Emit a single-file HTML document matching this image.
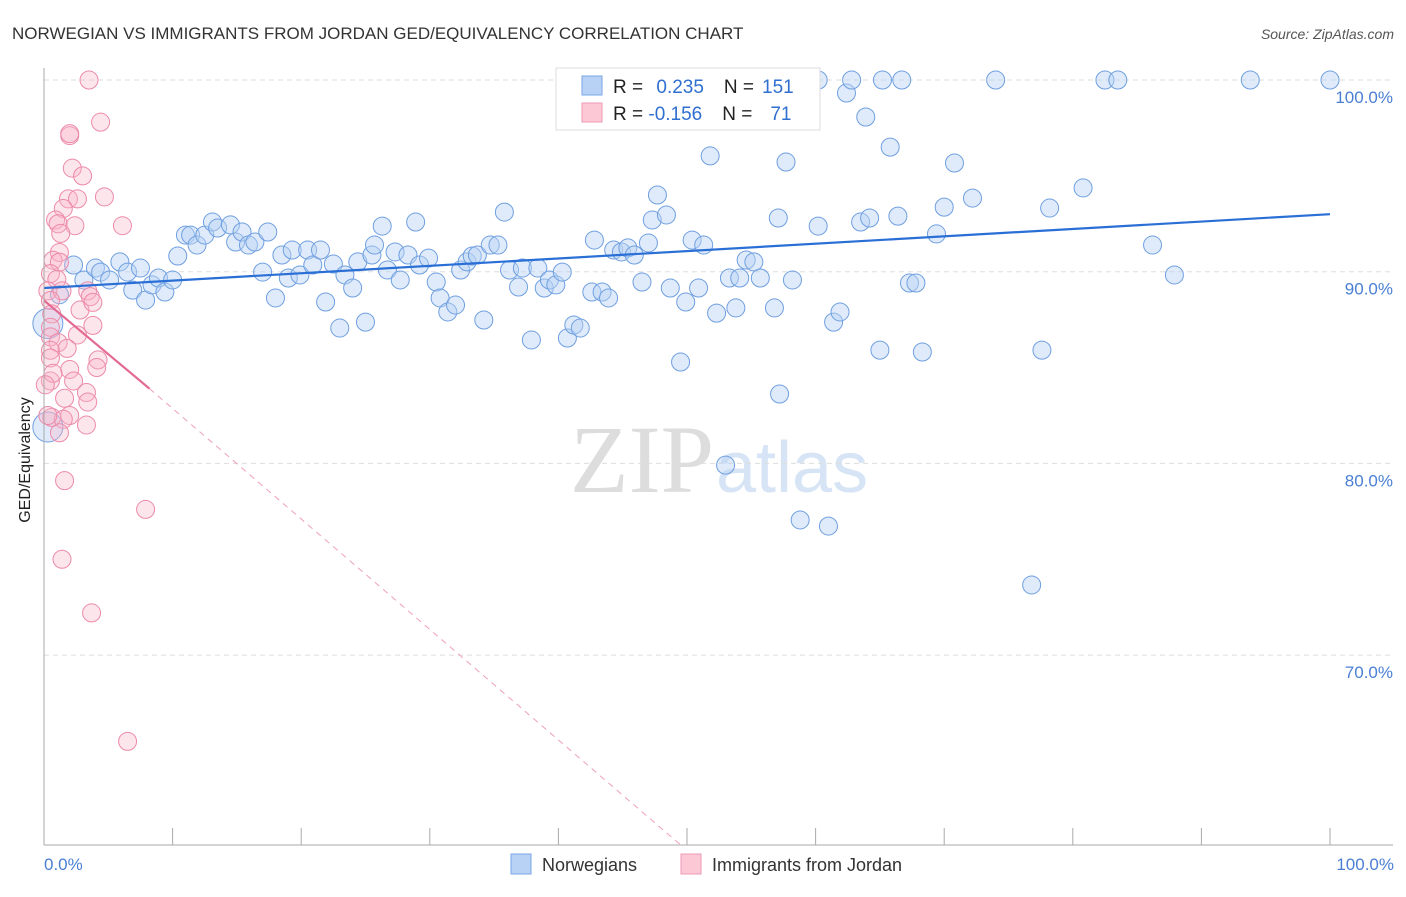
<!DOCTYPE html>
<html><head><meta charset="utf-8"><style>
body{margin:0;background:#fff;font-family:"Liberation Sans",sans-serif}
</style></head><body>
<svg id="c" width="1406" height="892" xmlns="http://www.w3.org/2000/svg">
<text x="12" y="39" font-size="17" fill="#333">NORWEGIAN VS IMMIGRANTS FROM JORDAN GED/EQUIVALENCY CORRELATION CHART</text>
<text x="1394" y="39" font-size="14" fill="#555" text-anchor="end" font-style="italic">Source: ZipAtlas.com</text>
<text x="714" y="492" font-size="96" fill="#ddd" text-anchor="end" font-family="Liberation Serif">ZIP</text>
<text x="716" y="492" font-size="72" fill="#d6e4f5">atlas</text>
<g id="grid"></g><g id="pts"></g><g id="lines"></g>
<line x1="44" y1="68" x2="44" y2="845" stroke="#aaa"/>
<line x1="44" y1="845" x2="1393" y2="845" stroke="#aaa"/>
<text x="30" y="460" font-size="16" fill="#222" text-anchor="middle" transform="rotate(-90 30 460)">GED/Equivalency</text>
<text x="44" y="870" font-size="17" fill="#4a7fd4">0.0%</text>
<text x="1394" y="870" font-size="17" fill="#4a7fd4" text-anchor="end">100.0%</text>
<g>
<rect x="556" y="68" width="264" height="62" fill="#fff" stroke="#ddd"/>
<rect x="582" y="76" width="20" height="19" fill="#b8d2f5" stroke="#7aa6e6"/>
<rect x="582" y="103" width="20" height="19" fill="#fcc8d6" stroke="#ee9ab4"/>
<text x="613" y="93" font-size="19" fill="#222">R = <tspan fill="#2f6fd0" dx="8">0.235</tspan><tspan dx="20" fill="#222">N =</tspan><tspan fill="#2f6fd0" dx="8">151</tspan></text>
<text x="613" y="120" font-size="19" fill="#222">R = <tspan fill="#2f6fd0">-0.156</tspan><tspan dx="20" fill="#222">N =</tspan><tspan fill="#2f6fd0" dx="18">71</tspan></text>
</g>
<g>
<rect x="511" y="854" width="20" height="20" fill="#b8d2f5" stroke="#7aa6e6"/>
<text x="542" y="871" font-size="18" fill="#333">Norwegians</text>
<rect x="681" y="854" width="20" height="20" fill="#fcc8d6" stroke="#ee9ab4"/>
<text x="712" y="871" font-size="18" fill="#333">Immigrants from Jordan</text>
</g>
</svg>
<script>
const yTicks=[100,90,80,70];
const yTickLabels=["100.0%","90.0%","80.0%","70.0%"];
const xTicks=[0,10,20,30,40,50,60,70,80,90,100];
const blueX=[2.3,3.1,4.0,4.4,5.1,5.9,6.5,7.5,6.9,7.9,8.4,8.9,9.4,10.0,10.4,11.0,11.4,11.9,12.5,13.1,13.5,14.5,14.9,15.4,15.9,16.4,17.0,17.4,18.0,18.5,19.0,19.3,19.9,20.5,20.9,21.5,21.9,22.5,23.0,23.4,24.0,24.4,25.0,25.5,25.7,26.3,26.7,27.3,27.7,28.3,28.9,29.2,29.9,30.5,30.8,31.4,32.0,32.4,32.9,33.3,33.7,34.2,34.7,35.3,35.8,36.2,36.9,37.2,37.9,38.4,38.9,39.3,39.8,40.3,40.7,41.2,41.7,42.6,42.8,43.4,43.9,44.3,44.9,45.4,45.9,46.5,47.0,47.3,47.7,48.4,48.7,49.5,49.9,50.4,50.9,51.3,51.8,52.3,53.0,53.3,53.8,54.1,54.6,55.2,55.7,56.8,57.1,57.2,57.7,58.2,58.8,60.2,60.2,61.0,61.4,61.9,62.4,62.8,63.9,63.5,64.2,65.0,65.2,65.8,66.4,66.7,67.3,67.8,68.3,69.4,70.0,70.8,72.2,74.0,76.8,77.6,78.2,80.8,82.5,83.5,86.2,87.9,93.8,100,1.2];
const blueY=[90.35,89.57,90.19,89.98,89.57,90.51,89.98,90.19,89.04,88.52,89.31,89.67,88.94,89.57,90.82,91.91,91.91,91.39,91.91,92.59,92.28,92.44,91.55,92.07,91.39,91.55,89.98,92.07,88.63,90.87,89.67,91.13,89.83,91.13,90.35,91.13,88.42,90.40,87.06,89.83,89.15,90.51,87.37,90.87,91.39,92.38,90.09,91.03,89.57,90.87,92.59,90.35,90.71,89.46,88.63,87.90,88.26,90.09,90.51,90.82,90.87,87.48,91.39,91.39,93.11,90.09,89.20,90.19,86.44,90.19,89.15,89.57,89.31,89.98,86.54,87.22,87.06,88.94,91.65,88.94,88.63,91.13,91.03,91.24,90.87,89.46,91.50,92.70,94.00,92.96,89.15,85.29,88.42,91.65,89.15,91.39,96.04,87.84,79.91,89.67,88.11,89.67,90.61,90.51,89.67,88.11,92.80,83.62,95.72,89.57,77.05,92.38,100,76.73,87.37,87.90,99.32,100,98.07,92.59,92.80,85.91,100,96.50,92.90,100,89.41,89.41,85.81,91.97,93.37,95.67,93.84,100,73.66,85.91,93.32,94.37,100,100,91.39,89.83,100,100,88.8];
const blueBigX=[0.3,0.3];
const blueBigY=[87.3,81.9];
const pinkX=[3.5,4.4,2.0,2.0,2.2,3.0,4.7,1.9,2.6,1.5,0.9,1.1,2.4,1.3,6.1,1.2,0.7,1.2,0.5,1.0,0.3,1.4,3.4,0.5,3.6,2.8,3.8,0.6,3.8,0.5,0.5,1.1,2.6,0.5,1.8,0.5,4.2,4.1,2.0,2.3,0.5,0.7,3.3,3.4,1.6,0.6,2.0,1.5,3.3,1.2,1.6,7.9,1.4,3.7,6.5,0.1,0.3];
const pinkY=[100,97.8,97.1,97.2,95.4,95.0,93.9,93.8,93.8,93.3,92.7,92.5,92.4,92.0,92.4,91.0,90.6,90.5,89.9,89.6,89.0,89.0,89.0,88.5,88.7,88.0,88.4,87.8,87.2,87.1,86.6,86.3,86.7,85.9,86.0,85.5,85.4,85.0,84.9,84.3,84.3,84.7,83.7,83.2,83.4,82.4,82.5,82.3,82.0,81.6,79.1,77.6,75.0,72.2,65.5,84.1,82.5];
const blueTrend=[[0,89.15],[100,93.0]];
const pinkTrend=[[0,88.5],[8.2,83.9]];
const pinkDash=[[8.2,83.9],[49.5,60.1]];
const X=v=>44+v*12.86, Y=v=>80+(100-v)*19.17;
const NS="http://www.w3.org/2000/svg";
function mk(t,a,p){const e=document.createElementNS(NS,t);for(const k in a)e.setAttribute(k,a[k]);p.appendChild(e);return e;}
const grid=document.getElementById('grid');
yTicks.forEach((t,i)=>{
 const l=mk('line',{x1:44,x2:1393,y1:Y(t),y2:Y(t),stroke:'#ddd','stroke-dasharray':'5,4'},grid);
 
 
 const tx=mk('text',{x:1393,y:Y(t)+23,'font-size':17,fill:'#4a7fd4','text-anchor':'end'},grid);
 tx.textContent=yTickLabels[i];
 
 
});
xTicks.forEach(t=>{
 const l=mk('line',{x1:X(t),x2:X(t),y1:828,y2:845,stroke:'#aaa'},grid);
 
 
});
const pts=document.getElementById('pts');
function dots(xs,ys,r,fill,stroke,op,name){xs.forEach((x,i)=>{
 const c=mk('circle',{cx:X(x),cy:Y(ys[i]),r:r,fill:fill,'fill-opacity':op,stroke:stroke,'stroke-width':1},pts);
 
 
});}
dots(blueBigX,blueBigY,15,'#b8d2f5','#6f9fe0',0.45,'norwegians-point');
dots(blueX,blueY,9,'#b8d2f5','#6f9fe0',0.45,'norwegians-point');
dots(pinkX,pinkY,9,'#f8b4c8','#ec8aaa',0.35,'jordan-point');
const lines=document.getElementById('lines');
function ln(p,st,w,dash,name){const l=mk('line',{x1:X(p[0][0]),y1:Y(p[0][1]),x2:X(p[1][0]),y2:Y(p[1][1]),stroke:st,'stroke-width':w},lines);
 if(dash)l.setAttribute('stroke-dasharray',dash);
 
 }
ln(blueTrend,'#2a6fd6',2.2,null,'norwegians-trendline');
ln(pinkTrend,'#e36a92',2.2,null,'jordan-trendline');
ln(pinkDash,'#eea0b8',1,'6,5','jordan-trendline-extension');
</script>
</body></html>
